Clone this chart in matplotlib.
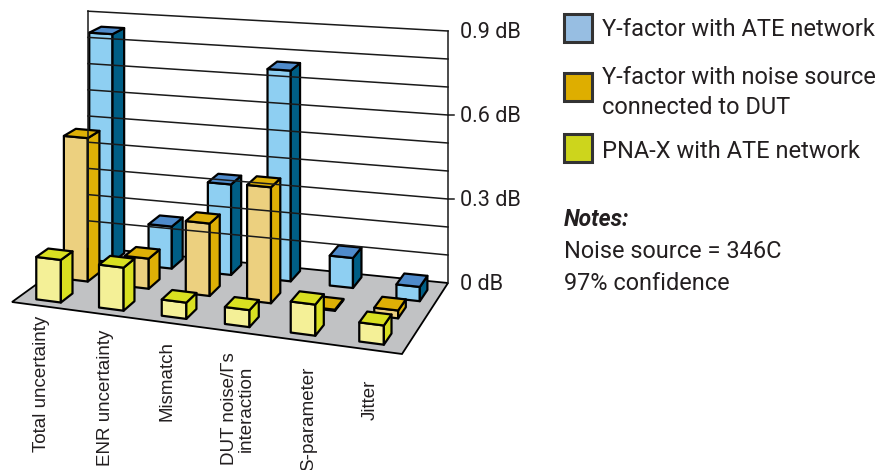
import numpy as np
import matplotlib
matplotlib.use("Agg")
import matplotlib.pyplot as plt
from matplotlib.patches import Polygon, Rectangle

# values, dB
categories = ["Total uncertainty", "ENR uncertainty", "Mismatch",
              "DUT noise/\u0393s\ninteraction", "S-parameter", "Jitter"]
yfactor_ate = [0.85, 0.155, 0.33, 0.76, 0.107, 0.05]
yfactor_dut = [0.52, 0.108, 0.257, 0.407, 0.004, 0.027]
pnax_ate = [0.15, 0.15, 0.056, 0.058, 0.105, 0.064]
tick_values = [0, 0.3, 0.6, 0.9]
tick_labels = ["0 dB", "0.3 dB", "0.6 dB", "0.9 dB"]
grid_values = [0.1, 0.2, 0.3, 0.4, 0.5, 0.6, 0.7, 0.8, 0.9]

# floor corners in pixels: front left, front right, back right, back left
A = np.array([12.0, 302.0])
B = np.array([402.0, 354.0])
C = np.array([448.0, 283.0])
D = np.array([88.0, 247.0])

# left edge of the bars along the floor and front edge into the depth,
# the picture's perspective is uneven so the last column needs its own
blue_u = [0.045, 0.207, 0.369, 0.532, 0.702, 0.895]
blue_v = [0.80, 0.80, 0.80, 0.80, 0.80, 0.72]
orange_u = [0.045, 0.207, 0.369, 0.532, 0.702, 0.870]
orange_v = [0.46, 0.46, 0.46, 0.46, 0.46, 0.46]
yellow_u = [0.045, 0.207, 0.369, 0.532, 0.702, 0.879]
yellow_v = [0.09, 0.09, 0.09, 0.09, 0.09, 0.09]

TEXT = "#231F20"
LABEL_FONT = "Liberation Sans"
LEGEND_FONT = "Roboto"


def proj(u, v, z=0.0):
    # u along the categories, v into the depth, z in dB
    p = (1-u)*(1-v)*A + u*(1-v)*B + u*v*C + (1-u)*v*D
    scale = (262 + 18*u) * (1 + 0.083*(1-v))
    return (p[0], p[1] - z*scale)


def draw_bar(ax, u0, v0, val, front, side, top):
    u1 = u0 + 0.0635
    v1 = v0 + 0.16
    lw = 1.6
    ax.add_patch(Polygon([proj(u0, v0), proj(u1, v0), proj(u1, v0, val), proj(u0, v0, val)],
                         fc=front, ec="black", lw=lw, joinstyle="round"))
    ax.add_patch(Polygon([proj(u1, v0), proj(u1, v1), proj(u1, v1, val), proj(u1, v0, val)],
                         fc=side, ec="black", lw=lw, joinstyle="round"))
    ax.add_patch(Polygon([proj(u0, v0, val), proj(u1, v0, val), proj(u1, v1, val), proj(u0, v1, val)],
                         fc=top, ec="black", lw=lw, joinstyle="round"))


fig = plt.figure(figsize=(8.91, 4.70), dpi=100)
ax = fig.add_axes([0, 0, 1, 1])
ax.set_xlim(0, 891)
ax.set_ylim(470, 0)
ax.axis("off")

# back wall
for g in grid_values:
    ax.plot(*zip(proj(0, 1, g), proj(1, 1, g)), color="#1a1a1a", lw=1.1)
ax.plot(*zip(proj(0, 1, 0), proj(0, 1, 0.9)), color="#1a1a1a", lw=1.1)
ax.plot(*zip(proj(1, 1, 0), proj(1, 1, 0.9)), color="#1a1a1a", lw=1.1)

# floor
ax.add_patch(Polygon([A, B, C, D], fc="#C1C2C4", ec="black", lw=1.3))

# tick labels on the right side of the wall
for val, lab in zip(tick_values, tick_labels):
    x, y = proj(1, 1, val)
    if val in (0.3, 0.6):
        ax.plot([x, x+6], [y, y], color="#1a1a1a", lw=1.1)
    ax.text(460, y+1.5, lab, family=LEGEND_FONT, fontsize=15.6, color=TEXT, va="center", ha="left")

# bars, back row first
rows = [(blue_u, blue_v, yfactor_ate, "#8ECFF2", "#005E85", "#4F8BCB"),
        (orange_u, orange_v, yfactor_dut, "#ECD07F", "#DEB006", "#DEB006"),
        (yellow_u, yellow_v, pnax_ate, "#F4F097", "#D9E021", "#D9E021")]
for us, vs, vals, front, side, top in rows:
    for u0, v0, val in zip(us, vs, vals):
        draw_bar(ax, u0, v0, val, front, side, top)

# category labels, rotated
label_x = [42, 106, 167, 238, 309, 370]
label_top = [316, 330, 341, 352, 367, 380]
for x, y, lab in zip(label_x, label_top, categories):
    ax.text(x, y, lab, rotation=90, family=LABEL_FONT, fontsize=13.5, color=TEXT,
            ha="center", va="top", multialignment="center", linespacing=1.0)

# legend
legend_colors = ["#97BEE2", "#DEAE00", "#CDD51C"]
legend_y = [14, 73, 134]
for c, y in zip(legend_colors, legend_y):
    ax.add_patch(Rectangle((564, y), 28, 28, fc=c, ec="#333333", lw=2.2))
ax.text(602, 30, "Y-factor with ATE network", family=LEGEND_FONT, fontsize=17, color=TEXT, va="center")
ax.text(602, 77, "Y-factor with noise source", family=LEGEND_FONT, fontsize=17, color=TEXT, va="center")
ax.text(602, 108, "connected to DUT", family=LEGEND_FONT, fontsize=17, color=TEXT, va="center")
ax.text(602, 151, "PNA-X with ATE network", family=LEGEND_FONT, fontsize=17, color=TEXT, va="center")

# notes
ax.text(564, 220, "Notes:", family=LEGEND_FONT, fontsize=16.5, color=TEXT, va="center",
        style="italic", weight="bold")
ax.text(564, 251, "Noise source = 346C", family=LEGEND_FONT, fontsize=16.9, color=TEXT, va="center")
ax.text(564, 283, "97% confidence", family=LEGEND_FONT, fontsize=16.9, color=TEXT, va="center")

fig.savefig("out.png", dpi=100)
